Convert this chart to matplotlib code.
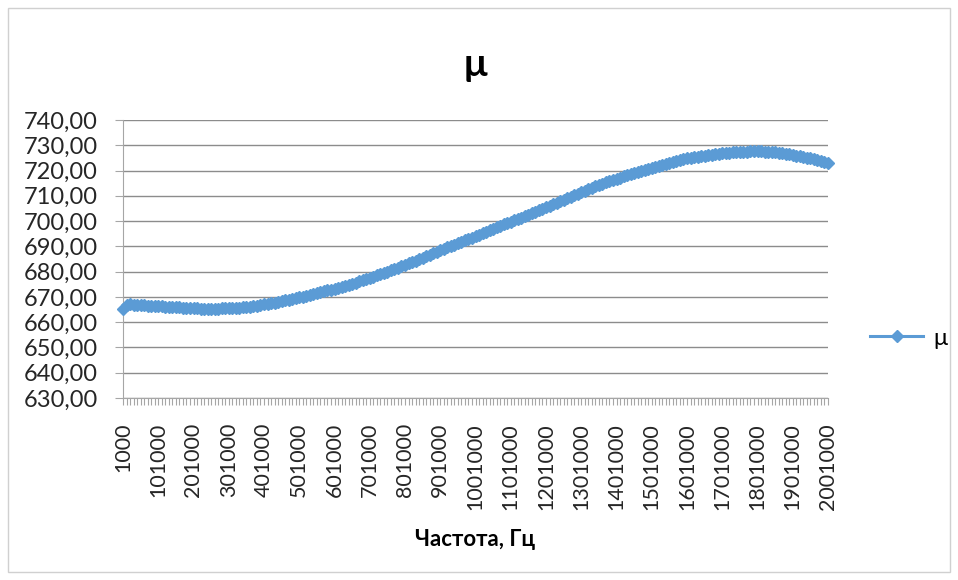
import numpy as np
import matplotlib.pyplot as plt
from matplotlib.patches import Rectangle

# частота, Гц (шаг 10 кГц)
freq = list(range(1000, 2001001, 10000))

# значения mu
mu = [
    665.2, 666.8, 667.0, 666.9, 666.9, 666.8, 666.7, 666.6, 666.6, 666.4,
    666.3, 666.3, 666.2, 666.1, 666.0, 665.9, 665.9, 665.8, 665.7, 665.6,
    665.5, 665.5, 665.4, 665.4, 665.4, 665.4, 665.4, 665.4, 665.5, 665.5,
    665.6, 665.6, 665.7, 665.8, 665.9, 666.0, 666.2, 666.4, 666.6, 666.8,
    667.0, 667.2, 667.5, 667.7, 668.0, 668.3, 668.6, 668.9, 669.2, 669.5,
    669.8, 670.1, 670.5, 670.8, 671.2, 671.5, 671.9, 672.2, 672.6, 672.9,
    673.3, 673.7, 674.1, 674.5, 674.9, 675.3, 675.7, 676.2, 676.6, 677.1,
    677.5, 678.0, 678.5, 679.0, 679.5, 680.0, 680.5, 681.1, 681.6, 682.2,
    682.7, 683.3, 683.8, 684.4, 684.9, 685.5, 686.1, 686.7, 687.3, 687.9,
    688.5, 689.1, 689.6, 690.2, 690.7, 691.3, 691.8, 692.4, 692.9, 693.5,
    694.0, 694.6, 695.2, 695.8, 696.4, 697.0, 697.6, 698.1, 698.7, 699.2,
    699.8, 700.3, 700.9, 701.4, 702.0, 702.5, 703.1, 703.7, 704.3, 704.9,
    705.5, 706.1, 706.7, 707.3, 707.9, 708.5, 709.1, 709.7, 710.3, 710.9,
    711.5, 712.0, 712.6, 713.1, 713.7, 714.2, 714.7, 715.3, 715.8, 716.3,
    716.8, 717.2, 717.7, 718.1, 718.6, 719.0, 719.5, 719.9, 720.4, 720.8,
    721.2, 721.6, 721.9, 722.3, 722.6, 723.0, 723.4, 723.7, 724.1, 724.4,
    724.8, 725.0, 725.2, 725.5, 725.7, 725.9, 726.1, 726.3, 726.4, 726.6,
    726.8, 726.9, 727.0, 727.2, 727.3, 727.4, 727.5, 727.5, 727.6, 727.6,
    727.6, 727.6, 727.5, 727.4, 727.3, 727.2, 727.0, 726.8, 726.6, 726.4,
    726.1, 725.9, 725.6, 725.4, 725.1, 724.8, 724.5, 724.1, 723.8, 723.4,
    723.0,
]

y_ticks = np.arange(630, 741, 10)

plt.rcParams['font.family'] = ['Lato', 'DejaVu Sans']

fig = plt.figure(figsize=(9.58, 5.8), dpi=100)
# рамка области диаграммы
fig.patches.append(Rectangle((8/958, 8/580), 942/958, 564/580, transform=fig.transFigure,
                             fill=False, edgecolor='#d0d0d0', linewidth=1))

ax = fig.add_axes([123/958, 1 - 398/580, 705/958, 278/580])
x = np.arange(len(freq))
ax.plot(x, mu, color='#5b9bd5', linewidth=2.2, marker='D', markersize=6,
        markeredgecolor='#5b9bd5', label='μ', clip_on=False, zorder=3)

ax.set_xlim(0, len(freq) - 1)
ax.set_ylim(630, 740)
ax.set_yticks(y_ticks)
ax.set_yticklabels(['{:.2f}'.format(v).replace('.', ',') for v in y_ticks], fontsize=17, color='#262626')
ax.set_xticks(x)
ax.set_xticklabels([str(f) if i % 10 == 0 else '' for i, f in enumerate(freq)],
                   rotation=90, fontsize=15.5, color='#262626')
ax.tick_params(axis='x', length=5, color='#a6a6a6', width=0.8, pad=13)
ax.tick_params(axis='y', length=6, color='#a6a6a6', width=0.8, pad=12)

ax.grid(axis='y', color='#8c8c8c', linewidth=1)
ax.set_axisbelow(True)
for s in ['top', 'right']:
    ax.spines[s].set_visible(False)
ax.spines['left'].set_color('#a6a6a6')
ax.spines['bottom'].set_color('#a6a6a6')

ax.set_title('μ', fontsize=28, fontweight='bold', pad=32)
ax.set_xlabel('Частота, Гц', fontsize=16, fontweight='bold', labelpad=14)

ax.legend(loc='center left', bbox_to_anchor=(42/705, 0.215), bbox_transform=ax.transAxes,
          frameon=False, fontsize=17, borderaxespad=0, borderpad=0,
          handlelength=2.25, handletextpad=0.45)
ax.get_legend().set_bbox_to_anchor((1 + 42/705, 0.215), transform=ax.transAxes)

fig.savefig('out.png', dpi=100)
